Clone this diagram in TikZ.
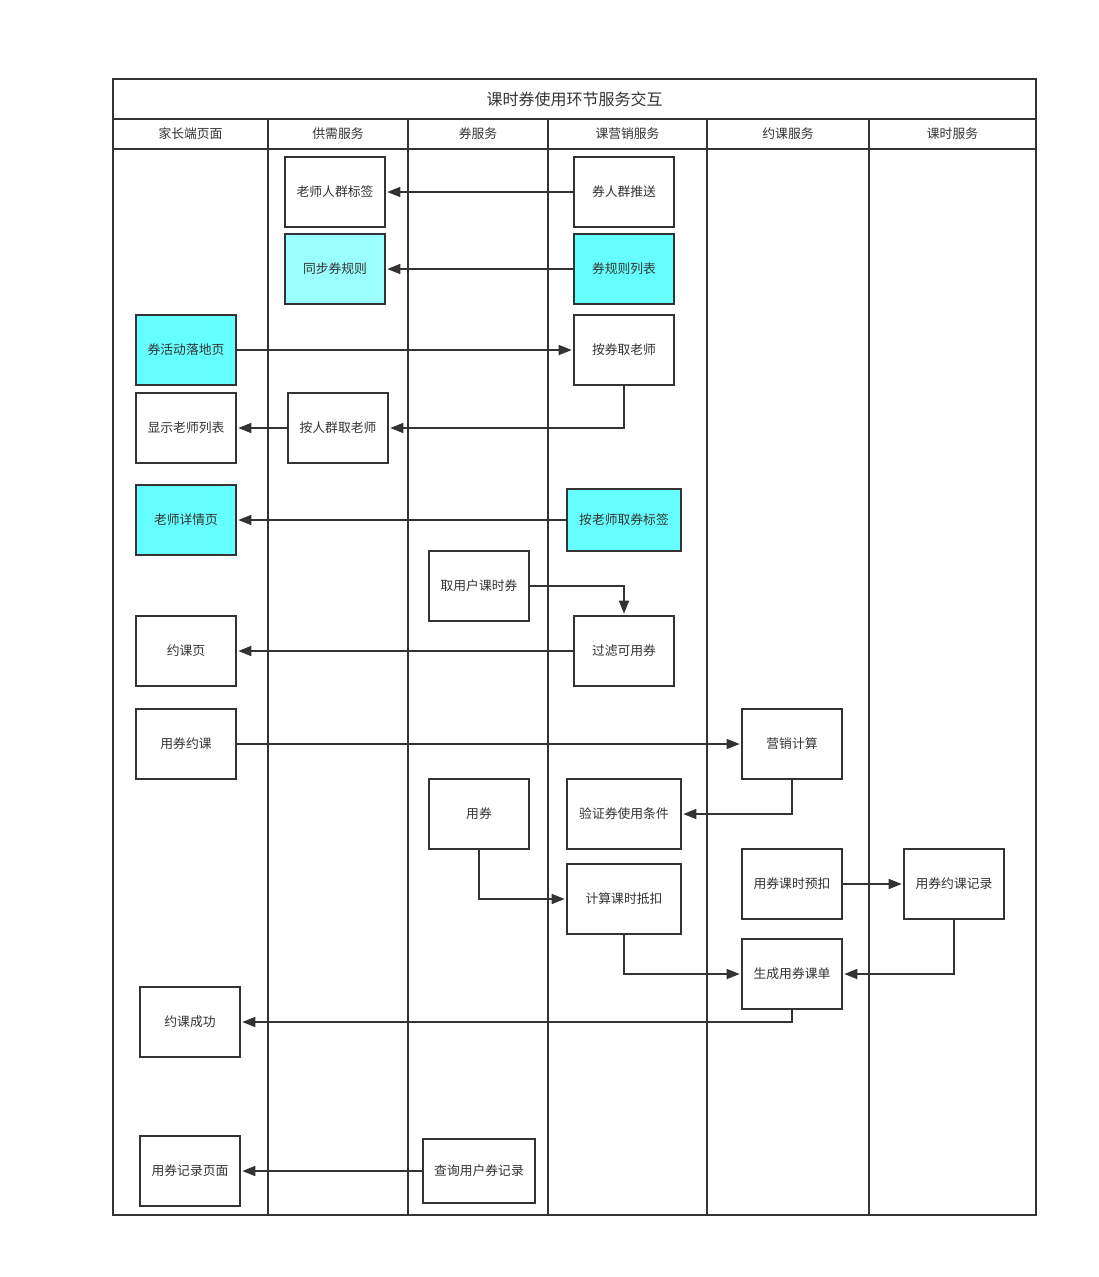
\documentclass[tikz,border=0pt]{standalone}
\usepackage{fontspec}
\setmainfont{Noto Sans CJK SC}
\usetikzlibrary{arrows.meta}
\definecolor{lc}{HTML}{333333}
\definecolor{cyanA}{HTML}{66FFFF}
\definecolor{cyanB}{HTML}{99FFFF}
\tikzset{
  box/.style={draw=lc, line width=1.6pt, fill=white, text=lc, minimum width=100pt, minimum height=70pt, inner sep=2pt, font=\fontsize{12.8}{14}\selectfont},
  wbox/.style={box, minimum width=114pt},
  hl/.style={fill=cyanA},
  hlb/.style={fill=cyanB},
  lane/.style={draw=lc, line width=1.6pt},
  conn/.style={draw=lc, line width=1.6pt, -{Triangle[length=13pt,width=10pt]}, shorten >=1.5pt},
  hdr/.style={text=lc, font=\fontsize{12.8}{14}\selectfont},
}
\begin{document}
\begin{tikzpicture}[x=1pt,y=-1pt]
\useasboundingbox (0,0) rectangle (1098,1277);
% pool
\draw[lane] (113,79) rectangle (1036,1215);
\draw[lane] (113,119) -- (1036,119);
\draw[lane] (113,149) -- (1036,149);
\foreach \x in {268,408,548,707,869} \draw[lane] (\x,119) -- (\x,1215);
\node[text=lc, font=\fontsize{16}{18}\selectfont] (title) at (574.5,99) {课时券使用环节服务交互};
\node[hdr] (h1) at (190.5,134) {家长端页面};
\node[hdr] (h2) at (338,134) {供需服务};
\node[hdr] (h3) at (478,134) {券服务};
\node[hdr] (h4) at (627.5,134) {课营销服务};
\node[hdr] (h5) at (788,134) {约课服务};
\node[hdr] (h6) at (952.5,134) {课时服务};
% nodes
\node[box] (rqbq) at (335,192) {老师人群标签};
\node[box] (rqts) at (624,192) {券人群推送};
\node[box,hlb] (tbgz) at (335,269) {同步券规则};
\node[box,hl] (gzlb) at (624,269) {券规则列表};
\node[box,hl] (hdy) at (186,350) {券活动落地页};
\node[box] (aqls) at (624,350) {按券取老师};
\node[box] (xslb) at (186,428) {显示老师列表};
\node[box] (arq) at (338,428) {按人群取老师};
\node[box,hl] (xqy) at (186,520) {老师详情页};
\node[wbox,hl,minimum height=62pt] (albq) at (624,520) {按老师取券标签};
\node[box] (qyh) at (479,586) {取用户课时券};
\node[box] (ykey) at (186,651) {约课页};
\node[box] (glky) at (624,651) {过滤可用券};
\node[box] (yqyk) at (186,744) {用券约课};
\node[box] (yxjs) at (792,744) {营销计算};
\node[box] (yq) at (479,814) {用券};
\node[wbox] (yztj) at (624,814) {验证券使用条件};
\node[box] (ksyk) at (792,884) {用券课时预扣};
\node[box] (ykjl) at (954,884) {用券约课记录};
\node[wbox] (jsdk) at (624,899) {计算课时抵扣};
\node[box] (sckd) at (792,974) {生成用券课单};
\node[box] (ykcg) at (190,1022) {约课成功};
\node[box] (jlym) at (190,1171) {用券记录页面};
\node[box, minimum width=112pt, minimum height=64pt] (cxjl) at (479,1171) {查询用户券记录};
% connectors
\draw[conn] (rqts) -- (rqbq);
\draw[conn] (gzlb) -- (tbgz);
\draw[conn] (hdy) -- (aqls);
\draw[conn] (aqls.south) |- (arq.east);
\draw[conn] (arq) -- (xslb);
\draw[conn] (albq) -- (xqy);
\draw[conn] (qyh.east) -| (glky.north);
\draw[conn] (glky) -- (ykey);
\draw[conn] (yqyk) -- (yxjs);
\draw[conn] (yxjs.south) |- (yztj.east);
\draw[conn] (yq.south) |- (jsdk.west);
\draw[conn] (jsdk.south) |- (sckd.west);
\draw[conn] (ksyk) -- (ykjl);
\draw[conn] (ykjl.south) |- (sckd.east);
\draw[conn] (sckd.south) |- (ykcg.east);
\draw[conn] (cxjl) -- (jlym);
\end{tikzpicture}
\end{document}
